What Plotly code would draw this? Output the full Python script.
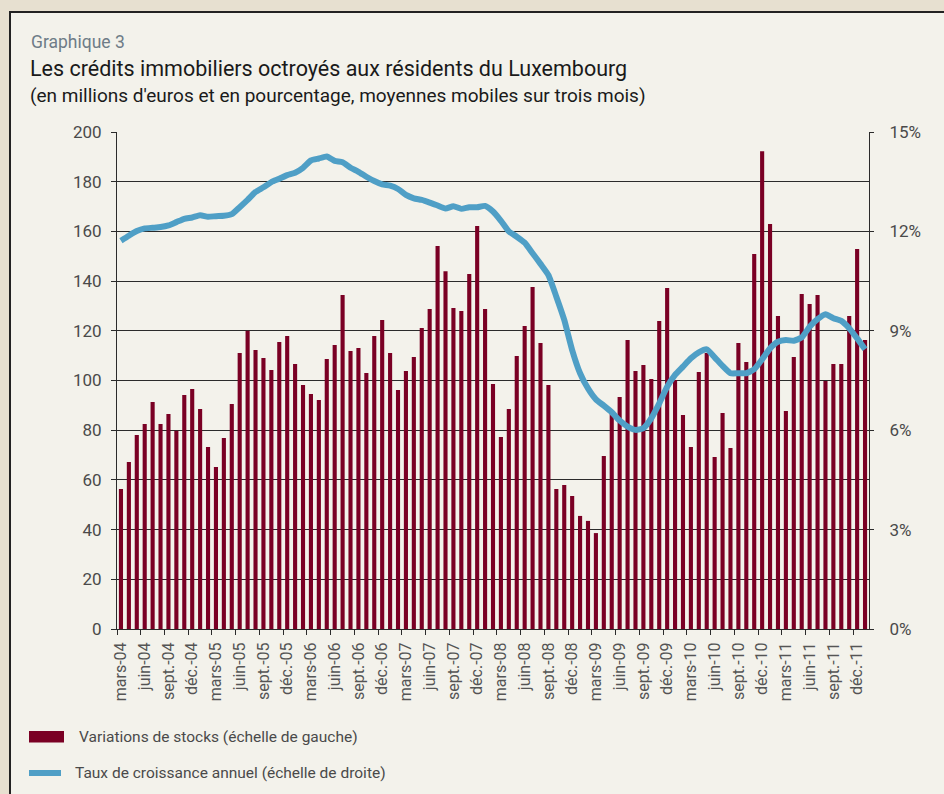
import plotly.graph_objects as go

# ---------------- data ----------------
month_names = ["janv.", "févr.", "mars", "avr.", "mai", "juin",
               "juil.", "août", "sept.", "oct.", "nov.", "déc."]
# categories: mars-04 .. janv.-12 (95 months)
categories = []
m, y = 2, 2004
for _ in range(95):
    categories.append(f"{month_names[m]}-{str(y)[2:]}")
    m += 1
    if m == 12:
        m, y = 0, y + 1

stock_changes = [
    56.3, 67.2, 78.1, 82.5, 91.3, 82.5, 86.5, 79.8, 94.2, 96.6,
    88.5, 73.2, 65.2, 76.9, 90.5, 111.1, 120.0, 112.3, 109.1, 104.2,
    115.5, 117.9, 106.6, 98.2, 94.6, 92.2, 108.7, 114.3, 134.4, 111.9,
    113.1, 103.0, 117.9, 124.3, 111.1, 96.2, 103.8, 109.5, 121.1, 128.8,
    154.1, 144.0, 129.2, 128.0, 142.9, 162.2, 128.8, 98.6, 77.3, 88.5,
    109.9, 121.9, 137.6, 115.1, 98.2, 56.3, 57.9, 53.5, 45.5, 43.5,
    38.6, 69.6, 86.9, 93.4, 116.3, 103.8, 106.2, 100.6, 123.9, 137.2,
    100.2, 86.1, 73.2, 103.4, 111.1, 69.2, 86.9, 72.8, 115.1, 107.4,
    150.9, 192.3, 163.0, 126.0, 87.7, 109.5, 134.8, 130.8, 134.4, 99.8,
    106.6, 106.6, 126.0, 152.9, 116.3,
]

growth_rate = [
    11.72, 11.87, 12.01, 12.09, 12.11, 12.13, 12.18, 12.28, 12.38, 12.42,
    12.49, 12.44, 12.46, 12.47, 12.52, 12.73, 12.95, 13.19, 13.33, 13.49,
    13.59, 13.70, 13.77, 13.92, 14.14, 14.20, 14.26, 14.13, 14.09, 13.92,
    13.80, 13.65, 13.52, 13.42, 13.38, 13.28, 13.10, 13.00, 12.95, 12.87,
    12.78, 12.69, 12.76, 12.68, 12.73, 12.73, 12.77, 12.60, 12.32, 12.00,
    11.84, 11.66, 11.34, 11.02, 10.68, 10.03, 9.33, 8.42, 7.72, 7.26,
    6.93, 6.74, 6.54, 6.29, 6.11, 6.01, 6.06, 6.36, 6.81, 7.31,
    7.67, 7.92, 8.17, 8.35, 8.44, 8.20, 7.94, 7.72, 7.72, 7.72,
    7.84, 8.14, 8.47, 8.67, 8.72, 8.70, 8.80, 9.12, 9.35, 9.50,
    9.38, 9.30, 9.08, 8.77, 8.44,
]

left_ticks = [0, 20, 40, 60, 80, 100, 120, 140, 160, 180, 200]
right_ticks = [0, 3, 6, 9, 12, 15]
right_tick_labels = ["0%", "3%", "6%", "9%", "12%", "15%"]

bar_name = "Variations de stocks (échelle de gauche)"
line_name = "Taux de croissance annuel (échelle de droite)"
supertitle = "Graphique 3"
title = "Les crédits immobiliers octroyés aux résidents du Luxembourg"
subtitle = "(en millions d'euros et en pourcentage, moyennes mobiles sur trois mois)"

# ---------------- layout geometry ----------------
W, H = 944, 794
L, R, T, B = 117, 869, 132, 629
PW, PH = R - L, B - T

def px(x):
    return (x - L) / PW

def py(y):
    return (B - y) / PH

FONT = "Roboto"
BAR_COLOR = "#7a0024"
LINE_COLOR = "#4f9fc6"
GRID = "#2b2b2b"
TXT = "#4a4a4a"
OUTER = "#e7e0d0"

xs = list(range(len(categories)))
label_idx = list(range(0, len(categories), 3))

fig = go.Figure()
fig.add_trace(go.Bar(
    x=xs, y=stock_changes, name=bar_name, marker_color=BAR_COLOR,
    marker_line_width=0, width=0.52, yaxis="y", showlegend=False,
))
fig.add_trace(go.Scatter(
    x=xs, y=growth_rate, name=line_name, mode="lines",
    line=dict(color=LINE_COLOR, width=6, shape="spline", smoothing=0.5),
    yaxis="y2", showlegend=False,
))

shapes = [
    # inner panel
    dict(type="rect", xref="paper", yref="paper", layer="below",
         x0=px(10), x1=px(960), y0=py(820), y1=py(12),
         fillcolor="#f3f2eb", line=dict(color="#222222", width=2)),
    # legend swatches
    dict(type="rect", xref="paper", yref="paper",
         x0=px(29), x1=px(64), y0=py(742.5), y1=py(731),
         fillcolor=BAR_COLOR, line=dict(width=0)),
    dict(type="line", xref="paper", yref="paper",
         x0=px(29), x1=px(61), y0=py(773), y1=py(773),
         line=dict(color=LINE_COLOR, width=6)),
]

annotations = [
    dict(text=supertitle, x=px(29), y=py(42), xref="paper", yref="paper",
         xanchor="left", yanchor="middle", showarrow=False,
         font=dict(family=FONT, size=17.5, color="#6e7c87")),
    dict(text=title, x=px(28), y=py(68), xref="paper", yref="paper",
         xanchor="left", yanchor="middle", showarrow=False,
         font=dict(family=FONT, size=21.5, color="#1a1a1a")),
    dict(text=subtitle, x=px(28), y=py(95), xref="paper", yref="paper",
         xanchor="left", yanchor="middle", showarrow=False,
         font=dict(family=FONT, size=19, color="#1a1a1a")),
    dict(text=bar_name, x=px(77), y=py(737), xref="paper", yref="paper",
         xanchor="left", yanchor="middle", showarrow=False,
         font=dict(family=FONT, size=15.5, color=TXT)),
    dict(text=line_name, x=px(73), y=py(773), xref="paper", yref="paper",
         xanchor="left", yanchor="middle", showarrow=False,
         font=dict(family=FONT, size=15.5, color=TXT)),
]

fig.update_layout(
    width=W, height=H,
    margin=dict(l=L, r=W - R, t=T, b=H - B, pad=0),
    paper_bgcolor=OUTER,
    plot_bgcolor="rgba(0,0,0,0)",
    font=dict(family=FONT, color=TXT),
    shapes=shapes,
    annotations=annotations,
    xaxis=dict(
        range=[-0.5, len(categories) - 0.5],
        tickmode="array", tickvals=label_idx,
        ticktext=[categories[i] for i in label_idx],
        tickangle=-90, ticks="", showgrid=False, zeroline=False,
        showline=True, linecolor=GRID, linewidth=1,
        tickfont=dict(family=FONT, size=16, color="#555555"),
        ticklabelstandoff=6,
        minor=dict(tickmode="array",
                   tickvals=[i - 0.5 for i in label_idx],
                   ticks="outside", ticklen=5, tickwidth=1, tickcolor=GRID,
                   showgrid=False),
    ),
    yaxis=dict(
        range=[0, 200], tickmode="array", tickvals=left_ticks,
        showgrid=True, gridcolor=GRID, gridwidth=1, zeroline=False,
        showline=True, linecolor=GRID, linewidth=1,
        ticks="outside", ticklen=5, tickcolor=GRID,
        tickfont=dict(family=FONT, size=17, color=TXT),
        ticklabelstandoff=6,
    ),
    yaxis2=dict(
        range=[0, 15], overlaying="y", side="right",
        tickmode="array", tickvals=right_ticks, ticktext=right_tick_labels,
        showgrid=False, zeroline=False,
        showline=True, linecolor=GRID, linewidth=1,
        ticks="outside", ticklen=16, tickcolor="rgba(0,0,0,0)",
        minor=dict(tickmode="array", tickvals=right_ticks,
                   ticks="outside", ticklen=4, tickwidth=1, tickcolor=GRID,
                   showgrid=False),
        tickfont=dict(family=FONT, size=17, color=TXT),
    ),
)

fig.write_html(
    "out.html",
    config={"displayModeBar": False},
    post_script="document.body.style.margin='0';"
                "document.body.style.background='" + OUTER + "';",
)
